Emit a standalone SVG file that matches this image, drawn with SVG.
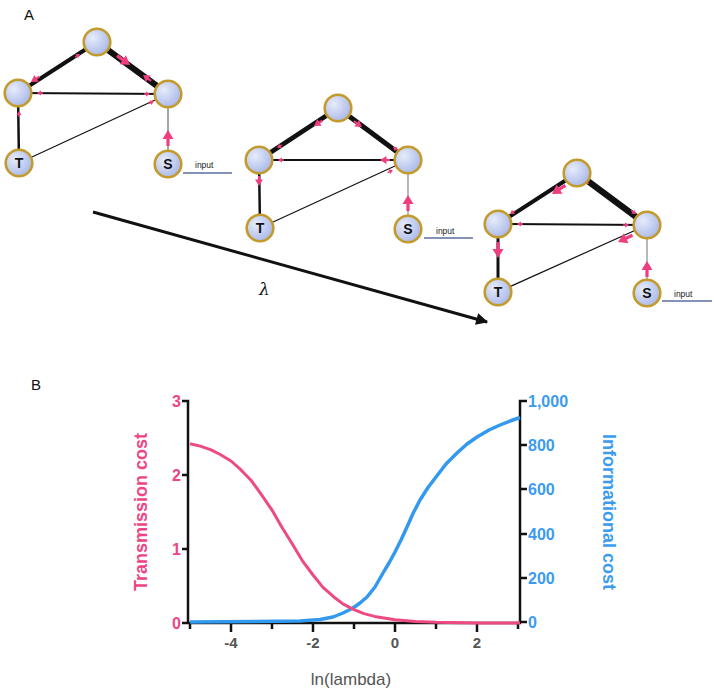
<svg xmlns="http://www.w3.org/2000/svg" xmlns:xlink="http://www.w3.org/1999/xlink" width="714" height="693" viewBox="0 0 714 693">
<style>
.lbl{font-family:"Liberation Sans",Arial,sans-serif;fill:#111}
.nd{fill:url(#ng);stroke:#C39B2C;stroke-width:2.6}
.nt{font-family:"Liberation Sans",Arial,sans-serif;font-weight:bold;font-size:14px;fill:#111;text-anchor:middle}
.e{stroke:#111;fill:none;stroke-linecap:butt}
.eg{stroke:#888;fill:none}
.pk{fill:#EE3E80;stroke:#EE3E80}
.inp{stroke:#5A6E9E;stroke-width:1.3}
.it{font-family:"Liberation Sans",Arial,sans-serif;font-size:8.5px;fill:#222}
.ax{stroke:#111;stroke-width:2.5;fill:none}
.tl{font-family:"Liberation Sans",Arial,sans-serif;font-weight:bold;font-size:16px;fill:#EE4485;text-anchor:end}
.tr{font-family:"Liberation Sans",Arial,sans-serif;font-weight:bold;font-size:16px;fill:#3B9BEF}
.tb{font-family:"Liberation Sans",Arial,sans-serif;font-weight:bold;font-size:15px;fill:#555;text-anchor:middle}
</style>
<defs>
<radialGradient id="ng" cx="0.35" cy="0.35" r="0.75">
<stop offset="0" stop-color="#E6ECFB"/>
<stop offset="1" stop-color="#A5B4E6"/>
</radialGradient>
<g id="ab" class="pk"><path d="M-16,0 H-7" stroke-width="3.2"/><path d="M0,0 L-9,-5.5 L-9,5.5 Z" stroke="none"/></g>
<g id="am" class="pk"><path d="M-10,0 H-4" stroke-width="2.2"/><path d="M0,0 L-6.5,-4 L-6.5,4 Z" stroke="none"/></g>
<g id="as" class="pk"><path d="M-6,0 H-3" stroke-width="1.4"/><path d="M0,0 L-4,-2.5 L-4,2.5 Z" stroke="none"/></g>
<marker id="bigarr" viewBox="0 0 10 10" refX="9" refY="5" markerWidth="4.5" markerHeight="4" orient="auto" markerUnits="strokeWidth">
<path d="M0,0 L10,5 L0,10 Z" fill="#111"/>
</marker>
</defs>
<rect width="714" height="693" fill="#fff"/>

<text class="lbl" x="24" y="20" font-size="15">A</text>
<text class="lbl" x="31" y="390" font-size="15">B</text>

<g id="connectors">
<g id="net1-edges">
<line class="e" x1="97" y1="42" x2="18" y2="93" stroke-width="4"/>
<line class="e" x1="97" y1="42" x2="168" y2="94" stroke-width="6"/>
<line class="e" x1="18" y1="93" x2="168" y2="94" stroke-width="2"/>
<line class="e" x1="18" y1="93" x2="19" y2="163" stroke-width="2.5"/>
<line class="e" x1="19" y1="163" x2="168" y2="94" stroke-width="1.2"/>
<line class="eg" x1="168" y1="164" x2="168" y2="94" stroke-width="1.5"/>
<use href="#am" transform="translate(31,82) rotate(147)"/>
<use href="#as" transform="translate(80,54) rotate(-33)"/>
<use href="#ab" transform="translate(130,65) rotate(36)"/>
<use href="#am" transform="translate(143,75) rotate(216)"/>
<use href="#as" transform="translate(37,93) rotate(180)"/>
<use href="#as" transform="translate(150,94) rotate(0)"/>
<use href="#as" transform="translate(19,111) rotate(-90)"/>
<use href="#as" transform="translate(154,101) rotate(-25)"/>
<use href="#ab" transform="translate(168,130) rotate(-90)"/>
<line class="inp" x1="183" y1="173" x2="232" y2="173"/>
<text class="it" x="195" y="168">input</text>
</g>
<g id="net2-edges">
<line class="e" x1="338" y1="108" x2="259" y2="160" stroke-width="4.5"/>
<line class="e" x1="338" y1="108" x2="408" y2="160" stroke-width="5"/>
<line class="e" x1="259" y1="160" x2="408" y2="160" stroke-width="2"/>
<line class="e" x1="259" y1="160" x2="260" y2="228" stroke-width="2.5"/>
<line class="e" x1="260" y1="228" x2="408" y2="160" stroke-width="1.2"/>
<line class="eg" x1="408" y1="229" x2="408" y2="160" stroke-width="1.2"/>
<use href="#am" transform="translate(314,126) rotate(147)"/>
<use href="#as" transform="translate(277,148) rotate(147)"/>
<use href="#am" transform="translate(362,127) rotate(36)"/>
<use href="#as" transform="translate(393,147) rotate(216)"/>
<use href="#as" transform="translate(278,160) rotate(180)"/>
<use href="#am" transform="translate(380,160) rotate(180)"/>
<use href="#am" transform="translate(259,186) rotate(90)"/>
<use href="#as" transform="translate(393,170) rotate(-25)"/>
<use href="#ab" transform="translate(408,195) rotate(-90)"/>
<line class="inp" x1="424" y1="238" x2="473" y2="238"/>
<text class="it" x="436" y="234">input</text>
</g>
<g id="net3-edges">
<line class="e" x1="577" y1="173" x2="498" y2="224" stroke-width="4"/>
<line class="e" x1="577" y1="173" x2="647" y2="225" stroke-width="6.5"/>
<line class="e" x1="498" y1="224" x2="647" y2="225" stroke-width="2"/>
<line class="e" x1="498" y1="224" x2="498" y2="292" stroke-width="3"/>
<line class="e" x1="498" y1="292" x2="647" y2="225" stroke-width="1.2"/>
<line class="eg" x1="647" y1="293" x2="647" y2="225" stroke-width="1.2"/>
<use href="#ab" transform="translate(552,194) rotate(147)"/>
<use href="#as" transform="translate(510,214) rotate(147)"/>
<use href="#as" transform="translate(589,184) rotate(36)"/>
<use href="#as" transform="translate(636,214) rotate(36)"/>
<use href="#as" transform="translate(517,224) rotate(180)"/>
<use href="#as" transform="translate(629,225) rotate(0)"/>
<use href="#ab" transform="translate(498,258) rotate(90)"/>
<use href="#ab" transform="translate(618,242) rotate(155)"/>
<use href="#ab" transform="translate(647,261) rotate(-90)"/>
<line class="inp" x1="662" y1="301" x2="712" y2="301"/>
<text class="it" x="674" y="297">input</text>
</g>
<line x1="93" y1="212" x2="487" y2="322" stroke="#111" stroke-width="3" marker-end="url(#bigarr)"/>
</g>

<text x="259" y="295" font-family="'DejaVu Serif','Liberation Serif',serif" font-style="italic" font-size="17" fill="#111">λ</text>

<g id="net1-nodes">
<g id="n1-top"><circle class="nd" cx="97" cy="42" r="13.3"/></g>
<g id="n1-left"><circle class="nd" cx="18" cy="93" r="13.3"/></g>
<g id="n1-right"><circle class="nd" cx="168" cy="94" r="13.3"/></g>
<g id="n1-T"><circle class="nd" cx="19" cy="163" r="13.3"/><text class="nt" x="19" y="168">T</text></g>
<g id="n1-S"><circle class="nd" cx="168" cy="164" r="13.3"/><text class="nt" x="168" y="169">S</text></g>
</g>
<g id="net2-nodes">
<g id="n2-top"><circle class="nd" cx="338" cy="108" r="13.3"/></g>
<g id="n2-left"><circle class="nd" cx="259" cy="160" r="13.3"/></g>
<g id="n2-right"><circle class="nd" cx="408" cy="160" r="13.3"/></g>
<g id="n2-T"><circle class="nd" cx="260" cy="228" r="13.3"/><text class="nt" x="260" y="233">T</text></g>
<g id="n2-S"><circle class="nd" cx="408" cy="229" r="13.3"/><text class="nt" x="408" y="234">S</text></g>
</g>
<g id="net3-nodes">
<g id="n3-top"><circle class="nd" cx="577" cy="173" r="13.3"/></g>
<g id="n3-left"><circle class="nd" cx="498" cy="224" r="13.3"/></g>
<g id="n3-right"><circle class="nd" cx="647" cy="225" r="13.3"/></g>
<g id="n3-T"><circle class="nd" cx="498" cy="292" r="13.3"/><text class="nt" x="498" y="297">T</text></g>
<g id="n3-S"><circle class="nd" cx="647" cy="293" r="13.3"/><text class="nt" x="647" y="298">S</text></g>
</g>

<g id="chart">
<path class="ax" d="M182,401 H188 V623 M182,475 H188 M182,549 H188 M182,623 H188"/>
<path class="ax" d="M188,623 H521 M190,623 V629 M231,623 V632 M272,623 V629 M313,623 V632 M354,623 V629 M395,623 V632 M436,623 V629 M477,623 V632 M518,623 V629"/>
<path class="ax" d="M527,401 H520 V623 M520,445 H527 M520,489 H527 M520,534 H527 M520,578 H527 M520,622 H527"/>
<polyline fill="none" stroke="#3399EE" stroke-width="3.5" stroke-linejoin="round" points="190,622 300,621 320,619.5 333,617 343,613 353,608 360,603 367,597 375,587 383,573 389,563 395,552 401,540 407,527 413,513.5 420,500 428,487.5 436,477 446,464 457,453 467,444 477,437 489,430 500,425 510,421 520,417.5"/>
<polyline fill="none" stroke="#EE4A82" stroke-width="3" stroke-linejoin="round" points="190,443.7 200.25,446.1 210.5,449.6 220.25,454.5 231,461 240.75,469.7 251.5,480.8 261.25,494.4 272,510.1 281.75,527 292.5,544.3 302.25,560.6 313,575 322.75,587.1 333.5,596.7 343.25,604.1 354,609.6 364,613.6 374.5,616.4 395,619.8 415.5,621.5 436,622.3 477,622.9 520,623"/>
<text class="tl" x="181" y="407">3</text>
<text class="tl" x="181" y="481">2</text>
<text class="tl" x="181" y="555">1</text>
<text class="tl" x="181" y="629">0</text>
<text class="tr" x="528" y="407">1,000</text>
<text class="tr" x="528" y="451">800</text>
<text class="tr" x="528" y="495">600</text>
<text class="tr" x="528" y="540">400</text>
<text class="tr" x="528" y="584">200</text>
<text class="tr" x="528" y="628">0</text>
<text class="tb" x="231" y="648">-4</text>
<text class="tb" x="313" y="648">-2</text>
<text class="tb" x="395" y="648">0</text>
<text class="tb" x="477" y="648">2</text>
<text x="351" y="685" font-family="'Liberation Sans',Arial,sans-serif" font-size="17" fill="#555" text-anchor="middle">ln(lambda)</text>
<text transform="rotate(-90 147 512)" x="147" y="512" font-family="'Liberation Sans',Arial,sans-serif" font-weight="bold" font-size="18" fill="#EE4485" text-anchor="middle">Transmission cost</text>
<text transform="rotate(90 603 512)" x="603" y="512" font-family="'Liberation Sans',Arial,sans-serif" font-weight="bold" font-size="18" fill="#3B9BEF" text-anchor="middle">Informational cost</text>
</g>
</svg>
